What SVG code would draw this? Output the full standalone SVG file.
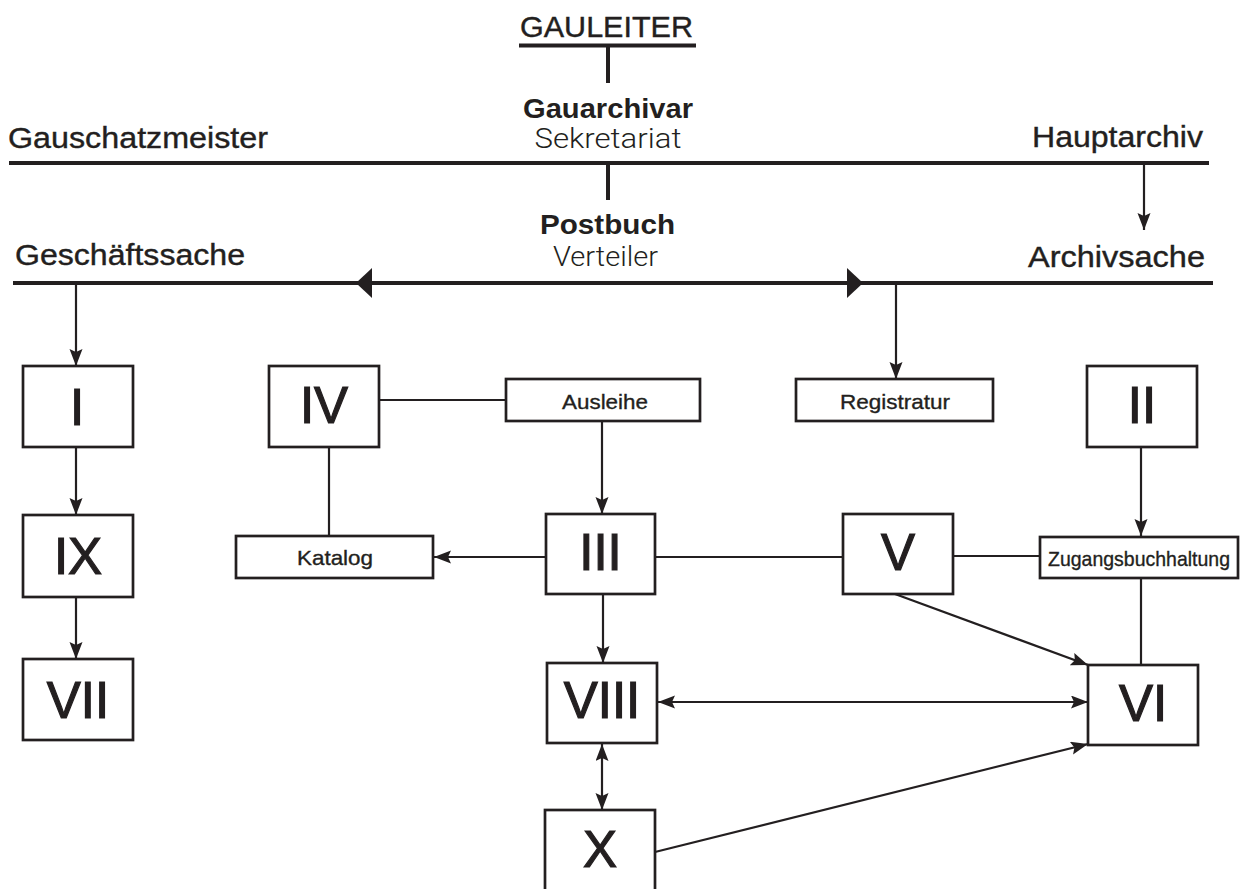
<svg xmlns="http://www.w3.org/2000/svg" width="1243" height="889" viewBox="0 0 1243 889">
<style>
.box{fill:#fff;stroke:#231f20;stroke-width:2.7}
.thick{stroke:#231f20;stroke-width:4;fill:none}
.con{stroke:#231f20;stroke-width:2.2;fill:none}
.num{font-family:"Liberation Sans",Arial,sans-serif;font-size:51px;fill:#231f20;stroke:#231f20;stroke-width:1.2;text-anchor:middle}
.lbl{font-family:"Liberation Sans",Arial,sans-serif;font-size:21px;fill:#231f20;stroke:#231f20;stroke-width:0.35;text-anchor:middle}
.hd{font-family:"Liberation Sans",Arial,sans-serif;font-size:30px;fill:#231f20;stroke:#231f20;stroke-width:0.4}
.bd{font-family:"Liberation Sans",Arial,sans-serif;font-size:28px;font-weight:bold;fill:#231f20;text-anchor:middle}
.lt{font-family:Roboto,"Liberation Sans",Arial,sans-serif;font-size:28px;font-weight:300;fill:#231f20;text-anchor:middle}
</style>
<defs>
<marker id="ah" markerUnits="userSpaceOnUse" markerWidth="18" markerHeight="14" refX="17" refY="6.5" orient="auto-start-reverse">
<path d="M0,0 L17,6.5 L0,13 L3,6.5 z" fill="#231f20"/>
</marker>
</defs>

<g id="headers">
<text class="hd" x="606.5" y="37" text-anchor="middle" textLength="173" lengthAdjust="spacingAndGlyphs">GAULEITER</text>
<line class="thick" x1="519" y1="45.5" x2="696" y2="45.5"/>
<line class="thick" x1="608" y1="46" x2="608" y2="83"/>
<text class="bd" x="608" y="118" textLength="170" lengthAdjust="spacingAndGlyphs">Gauarchivar</text>
<text class="lt" x="608" y="148" textLength="147" lengthAdjust="spacingAndGlyphs">Sekretariat</text>
<text class="hd" x="8" y="148" textLength="260" lengthAdjust="spacingAndGlyphs">Gauschatzmeister</text>
<text class="hd" x="1032" y="147" textLength="171" lengthAdjust="spacingAndGlyphs">Hauptarchiv</text>
<line class="thick" x1="9" y1="163" x2="1209" y2="163"/>
<line class="thick" x1="608" y1="163" x2="608" y2="200"/>
<text class="bd" x="607.5" y="234" textLength="135" lengthAdjust="spacingAndGlyphs">Postbuch</text>
<text class="lt" x="605.5" y="266" textLength="105" lengthAdjust="spacingAndGlyphs">Verteiler</text>
<text class="hd" x="15" y="265" textLength="230" lengthAdjust="spacingAndGlyphs">Geschäftssache</text>
<text class="hd" x="1028" y="267" textLength="177" lengthAdjust="spacingAndGlyphs">Archivsache</text>
<line class="thick" x1="13" y1="283" x2="1213" y2="283"/>
<path d="M356,283 L372,268 L372,298 z" fill="#231f20"/>
<path d="M863,283 L847,268 L847,298 z" fill="#231f20"/>
</g>

<g id="connectors">
<line class="con" x1="76" y1="285" x2="76" y2="366" marker-end="url(#ah)"/>
<line class="con" x1="76" y1="447" x2="76" y2="515" marker-end="url(#ah)"/>
<line class="con" x1="76" y1="597" x2="76" y2="659" marker-end="url(#ah)"/>
<line class="con" x1="379" y1="400" x2="506" y2="400"/>
<line class="con" x1="329" y1="447" x2="329" y2="536"/>
<line class="con" x1="602" y1="421" x2="602" y2="514" marker-end="url(#ah)"/>
<line class="con" x1="546" y1="557" x2="434" y2="557" marker-end="url(#ah)"/>
<line class="con" x1="655" y1="557" x2="843" y2="557"/>
<line class="con" x1="953" y1="556" x2="1040" y2="556"/>
<line class="con" x1="1141" y1="447" x2="1141" y2="536" marker-end="url(#ah)"/>
<line class="con" x1="1141" y1="578" x2="1141" y2="665"/>
<line class="con" x1="896" y1="285" x2="896" y2="379" marker-end="url(#ah)"/>
<line class="con" x1="1144" y1="165" x2="1144" y2="230" marker-end="url(#ah)"/>
<line class="con" x1="895" y1="594" x2="1088" y2="665" marker-end="url(#ah)"/>
<line class="con" x1="603" y1="594" x2="603" y2="663" marker-end="url(#ah)"/>
<line class="con" x1="658" y1="702" x2="1088" y2="702" marker-start="url(#ah)" marker-end="url(#ah)"/>
<line class="con" x1="602" y1="744" x2="602" y2="810" marker-start="url(#ah)" marker-end="url(#ah)"/>
<line class="con" x1="655" y1="852" x2="1088" y2="744" marker-end="url(#ah)"/>
</g>

<g id="node-I"><rect class="box" x="23" y="366" width="110" height="81"/><text class="num" x="77" y="425">I</text></g>
<g id="node-IX"><rect class="box" x="23" y="515" width="110" height="82"/><text class="num" x="78" y="574">IX</text></g>
<g id="node-VII"><rect class="box" x="23" y="659" width="110" height="81"/><text class="num" x="78" y="718">VII</text></g>
<g id="node-IV"><rect class="box" x="269" y="366" width="110" height="81"/><text class="num" x="324" y="423">IV</text></g>
<g id="node-Ausleihe"><rect class="box" x="506" y="379" width="194" height="42"/><text class="lbl" x="605" y="409" textLength="86" lengthAdjust="spacingAndGlyphs">Ausleihe</text></g>
<g id="node-Registratur"><rect class="box" x="796" y="379" width="197" height="42"/><text class="lbl" x="895" y="409" textLength="110" lengthAdjust="spacingAndGlyphs">Registratur</text></g>
<g id="node-II"><rect class="box" x="1087" y="366" width="110" height="81"/><text class="num" x="1142" y="423">II</text></g>
<g id="node-Katalog"><rect class="box" x="236" y="536" width="197" height="42"/><text class="lbl" x="335" y="565" textLength="76" lengthAdjust="spacingAndGlyphs">Katalog</text></g>
<g id="node-III"><rect class="box" x="546" y="514" width="109" height="80"/><text class="num" x="600.5" y="570">III</text></g>
<g id="node-V"><rect class="box" x="843" y="514" width="110" height="80"/><text class="num" x="898" y="570">V</text></g>
<g id="node-Zugangsbuchhaltung"><rect class="box" x="1040" y="537" width="198" height="41"/><text class="lbl" x="1139" y="566" textLength="182" lengthAdjust="spacingAndGlyphs">Zugangsbuchhaltung</text></g>
<g id="node-VIII"><rect class="box" x="547" y="663" width="110" height="80"/><text class="num" x="602" y="718">VIII</text></g>
<g id="node-VI"><rect class="box" x="1088" y="665" width="110" height="80"/><text class="num" x="1143" y="721">VI</text></g>
<g id="node-X"><rect class="box" x="545" y="810" width="110" height="95"/><text class="num" x="600" y="867">X</text></g>
</svg>
